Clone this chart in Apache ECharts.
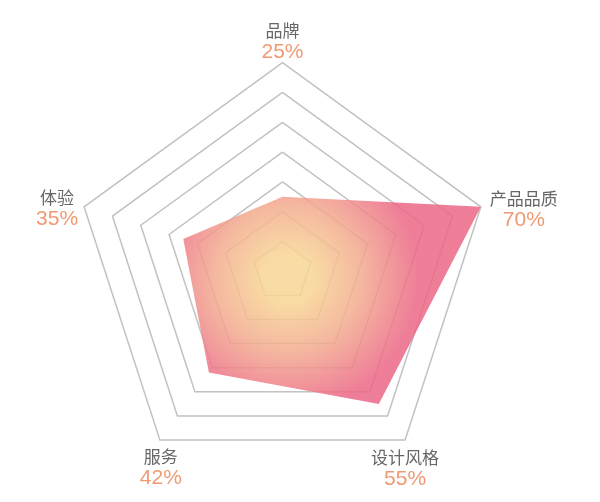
<!DOCTYPE html>
<html>
<head>
	<meta charset="utf-8">
	<title>雷达图</title>
	<style>
		html, body { margin: 0; padding: 0; background: #fff; }
	</style>
</head>

<body>
	<div style="width:600px;height:502px;" id="chart1"></div>

	<script src="https://cdn.jsdelivr.net/npm/echarts@6/dist/echarts.min.js"></script>
	<script>

	// 指标顺序按逆时针：顶部开始
	var names = ['品牌', '体验', '服务', '设计风格', '产品品质'];
	var values = [25, 35, 42, 55, 70];
	var maxValue = 70;

	// 标签相对于顶点的偏移 [dx, dy]
	var labelShift = [[0, -21], [-27, 2], [1, 28], [0, 29], [43, 3]];

	function show() {
		var myChart = echarts.init(document.getElementById('chart1'));

		var indicator = [], rich = {};
		for (var i = 0; i < names.length; i++) {
			indicator.push({ name: names[i], max: maxValue });
			var dx = labelShift[i][0];
			var pad = dx > 0 ? [0, 0, 0, dx * 2] : [0, -dx * 2, 0, 0];
			rich['n' + i] = {
				fontSize: 17, color: '#666', lineHeight: 21, align: 'center',
				fontFamily: 'Noto Sans CJK SC', padding: pad
			};
			rich['v' + i] = {
				fontSize: 21, color: '#ef9a72', lineHeight: 22, align: 'center',
				fontFamily: 'Liberation Sans', padding: pad
			};
			rich['s' + i] = {
				fontSize: 1, lineHeight: Math.abs(labelShift[i][1]) * 2, align: 'center'
			};
		}

		var option = {
			radar: {
				center: ['47.08%', '54.04%'],
				radius: 208.6,
				shape: 'polygon',
				splitNumber: 7,
				nameGap: 0,
				indicator: indicator,
				axisName: {
					align: 'center',
					verticalAlign: 'middle',
					rich: rich,
					formatter: function (name) {
						var i = names.indexOf(name);
						var txt = '{n' + i + '|' + name + '}\n{v' + i + '|' + values[i] + '%}';
						var sp = '{s' + i + '| }';
						return labelShift[i][1] > 0 ? sp + '\n' + txt : txt + '\n' + sp;
					}
				},
				axisLine: { show: false },
				splitArea: { show: false },
				splitLine: {
					lineStyle: { color: '#c2c2c2', width: 1.5 }
				}
			},
			series: [
				{
					name: '评分',
					type: 'radar',
					symbol: 'none',
					lineStyle: { width: 0 },
					areaStyle: {
						opacity: 0.85,
						color: {
							type: 'radial',
							x: 288, y: 278, r: 130,
							global: true,
							colorStops: [
								{ offset: 0, color: '#f8d696' },
								{ offset: 0.2, color: '#f8d494' },
								{ offset: 0.55, color: '#f3ad8f' },
								{ offset: 1, color: '#ec6886' }
							]
						}
					},
					data: [
						{ value: values, name: '评分' }
					]
				}
			]
		};

		myChart.setOption(option);
	}

	show();

	</script>
</body>

</html>
